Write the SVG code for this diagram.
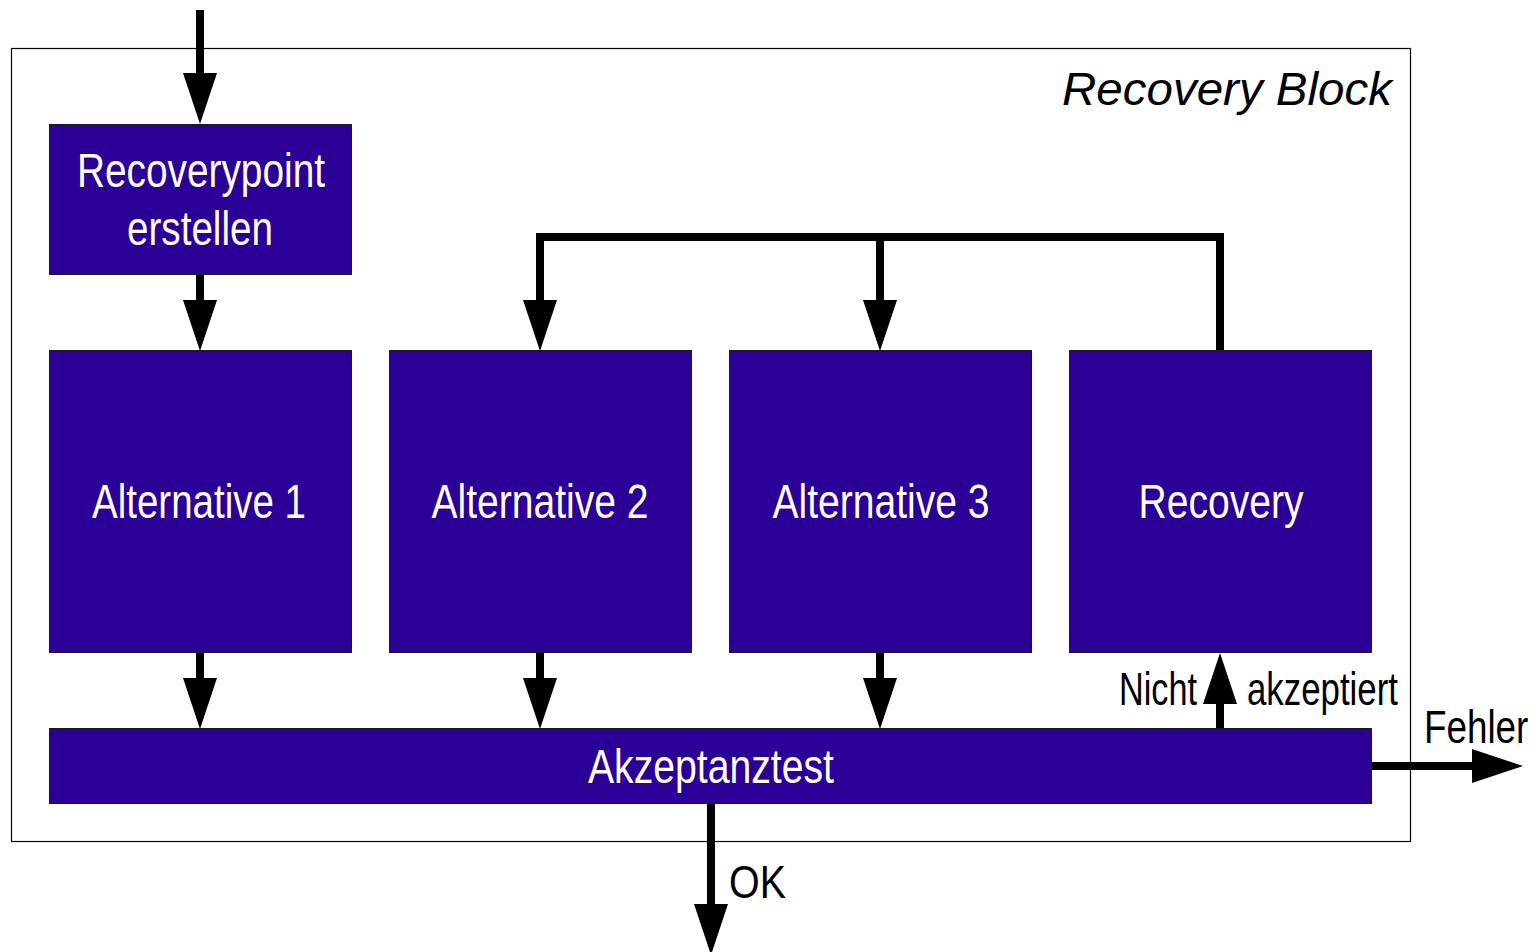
<svg xmlns="http://www.w3.org/2000/svg" xmlns:xlink="http://www.w3.org/1999/xlink" width="1539" height="952" viewBox="0 0 1539 952">
<style>
.box{fill:#2a0096;stroke:#1a1a1a;stroke-width:1}
.lbl{font-family:"Liberation Sans",Arial,sans-serif;font-size:48px;fill:#ffffff;text-anchor:middle}
.txt{font-family:"Liberation Sans",Arial,sans-serif;font-size:46px;fill:#000000}
.wire{fill:none;stroke:#000;stroke-width:8}
</style>
<defs>
<polygon id="ah" points="0,0 -17,-51 17,-51" fill="#000"/>
</defs>
<rect x="0" y="0" width="1539" height="952" fill="#fff"/>
<g id="frame">
<rect x="11.5" y="48.5" width="1399" height="793" fill="none" stroke="#000" stroke-width="1.2"/>
<text x="1062" y="105" font-family="Liberation Sans, Arial, sans-serif" font-size="47" font-style="italic" textLength="330" lengthAdjust="spacingAndGlyphs">Recovery Block</text>
</g>
<g id="connectors">
<line class="wire" x1="200" y1="10" x2="200" y2="80"/>
<use xlink:href="#ah" transform="translate(200,124)"/>
<line class="wire" x1="200" y1="275" x2="200" y2="305"/>
<use xlink:href="#ah" transform="translate(200,351)"/>
<path class="wire" d="M540,305 V237 H1220 V351 M880,237 V305"/>
<use xlink:href="#ah" transform="translate(540,351)"/>
<use xlink:href="#ah" transform="translate(880,351)"/>
<line class="wire" x1="200" y1="653" x2="200" y2="683"/>
<use xlink:href="#ah" transform="translate(200,729)"/>
<line class="wire" x1="540" y1="653" x2="540" y2="683"/>
<use xlink:href="#ah" transform="translate(540,729)"/>
<line class="wire" x1="880" y1="653" x2="880" y2="683"/>
<use xlink:href="#ah" transform="translate(880,729)"/>
<line class="wire" x1="1220" y1="728" x2="1220" y2="698"/>
<use xlink:href="#ah" transform="translate(1220,653) rotate(180)"/>
<line class="wire" x1="1372" y1="766" x2="1478" y2="766"/>
<use xlink:href="#ah" transform="translate(1523,766) rotate(-90)"/>
<text class="txt" x="1119" y="705" textLength="78" lengthAdjust="spacingAndGlyphs">Nicht</text>
<text class="txt" x="1247" y="705" textLength="151" lengthAdjust="spacingAndGlyphs">akzeptiert</text>
<text class="txt" transform="translate(1424,743) scale(0.8,1)" x="0" y="0">Fehler</text>
<line class="wire" x1="711" y1="803" x2="711" y2="910"/>
<use xlink:href="#ah" transform="translate(711,955)"/>
<text class="txt" x="729" y="898" textLength="57" lengthAdjust="spacingAndGlyphs">OK</text>
</g>
<g id="recoverypoint">
<rect class="box" x="49.5" y="124.5" width="302" height="150"/>
<text class="lbl" x="201" y="187" textLength="248" lengthAdjust="spacingAndGlyphs">Recoverypoint</text>
<text class="lbl" x="200" y="245" textLength="146" lengthAdjust="spacingAndGlyphs">erstellen</text>
</g>
<g id="alt1">
<rect class="box" x="49.5" y="350.5" width="302" height="302"/>
<text class="lbl" x="199" y="518" textLength="214" lengthAdjust="spacingAndGlyphs">Alternative 1</text>
</g>
<g id="alt2">
<rect class="box" x="389.5" y="350.5" width="302" height="302"/>
<text class="lbl" x="540" y="518" textLength="217" lengthAdjust="spacingAndGlyphs">Alternative 2</text>
</g>
<g id="alt3">
<rect class="box" x="729.5" y="350.5" width="302" height="302"/>
<text class="lbl" x="881" y="518" textLength="217" lengthAdjust="spacingAndGlyphs">Alternative 3</text>
</g>
<g id="recovery">
<rect class="box" x="1069.5" y="350.5" width="302" height="302"/>
<text class="lbl" x="1221" y="518" textLength="165" lengthAdjust="spacingAndGlyphs">Recovery</text>
</g>
<g id="akzeptanztest">
<rect class="box" x="49.5" y="728.5" width="1322" height="75"/>
<text class="lbl" x="711" y="783" textLength="246" lengthAdjust="spacingAndGlyphs">Akzeptanztest</text>
</g>
</svg>
